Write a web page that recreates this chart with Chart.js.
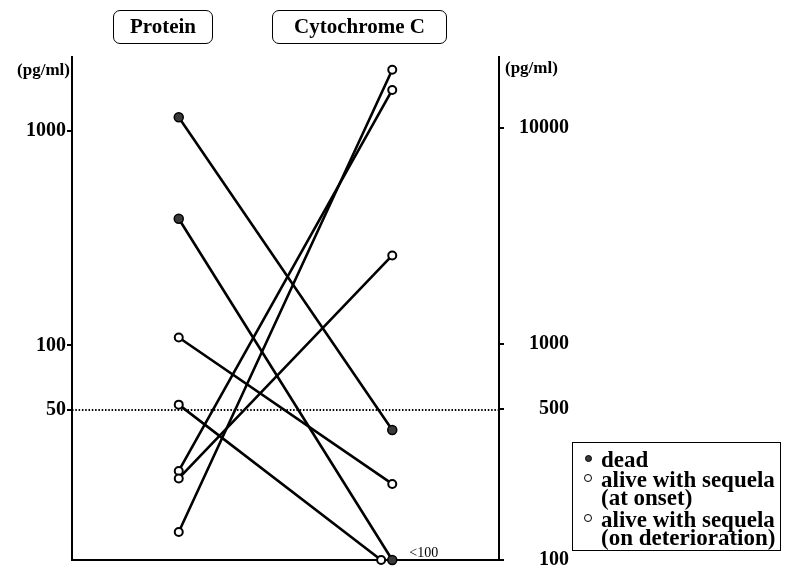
<!DOCTYPE html>
<html>
<head>
<meta charset="utf-8">
<title>Protein and Cytochrome C</title>
<script src="https://cdn.jsdelivr.net/npm/chart.js@4.4.1/dist/chart.umd.min.js"></script>
<style>
  html, body { margin: 0; padding: 0; background: #fff; }
  #wrap { position: relative; width: 785px; height: 570px; font-family: "Liberation Serif", "Times New Roman", serif; color: #000; }
  #chart { position: absolute; left: 0; top: 0; }
  .head { position: absolute; top: 10px; height: 34px; box-sizing: border-box; border: 1.5px solid #000; border-radius: 7px;
          font-weight: bold; font-size: 21px; line-height: 31px; text-align: center; }
  .unit { position: absolute; font-weight: bold; font-size: 17px; line-height: 20px; white-space: nowrap; }
  #legend { position: absolute; left: 572px; top: 442px; width: 209px; height: 109px; box-sizing: border-box; border: 1px solid #000; }
  #legend .entry { position: absolute; left: 28px; font-weight: bold; font-size: 23px; line-height: 18px; white-space: nowrap; }
  #legend .mark { position: absolute; box-sizing: border-box; border-radius: 50%; }
</style>
</head>
<body>
<div id="wrap">
  <canvas id="chart" width="785" height="570"></canvas>
  <div class="head" style="left:113px;width:100px;">Protein</div>
  <div class="head" style="left:272px;width:175px;">Cytochrome C</div>
  <div class="unit" style="right:715px;top:60px;">(pg/ml)</div>
  <div class="unit" style="left:505px;top:58px;">(pg/ml)</div>
  <div id="legend"></div>
</div>
<script>
// Paired measurements per patient: protein (left axis) and cytochrome C (right axis), pg/ml
const outcome    = ['dead', 'dead', 'alive', 'alive', 'alive', 'alive', 'alive'];
const protein    = [1160, 390, 109, 53, 26, 24, 13.5];
const cytochrome = [400, 100, 225, 100, 15000, 2570, 18600];

// Axis ticks and reference level
const proteinTicks    = [50, 100, 1000];
const cytochromeTicks = [100, 500, 1000, 10000];
const proteinCutoff   = 50;
const detectionLimit  = 100;

// Legend entries
const legendLabels = [
  { kind: 'dead',  lines: ['dead'] },
  { kind: 'alive', lines: ['alive with sequela', '(at onset)'] },
  { kind: 'alive', lines: ['alive with sequela', '(on deterioration)'] }
];

const colX = { protein: 0.25, cyto: 0.75 };
const dodge = 0.026;

// spread points that share the same value within a column
function columnPoints(values, x) {
  const seen = {};
  return values.map(v => {
    const k = seen[v] || 0;
    seen[v] = k + 1;
    return { x: x - k * dodge, y: v };
  });
}

const fillFor   = ctx => outcome[ctx.dataIndex] === 'dead' ? '#3a3a3a' : '#ffffff';
const borderFor = ctx => outcome[ctx.dataIndex] === 'dead' ? 1.5 : 2;
const radiusFor = ctx => outcome[ctx.dataIndex] === 'dead' ? 4.5 : 4;

const serif = 'Liberation Serif';

const connectors = {
  id: 'connectors',
  beforeDatasetsDraw(chart) {
    const a = chart.getDatasetMeta(1).data;
    const b = chart.getDatasetMeta(2).data;
    const ctx = chart.ctx;
    ctx.save();
    ctx.strokeStyle = '#000';
    ctx.lineWidth = 2.6;
    ctx.lineCap = 'round';
    for (let i = 0; i < a.length; i++) {
      ctx.beginPath();
      ctx.moveTo(a[i].x, a[i].y);
      ctx.lineTo(b[i].x, b[i].y);
      ctx.stroke();
    }
    ctx.restore();
  },
  afterDatasetsDraw(chart) {
    // "<100" note beside the undetectable cytochrome C values
    const pts = chart.getDatasetMeta(2).data.filter((p, i) => cytochrome[i] <= detectionLimit);
    if (!pts.length) return;
    const rightmost = pts.reduce((m, p) => p.x > m.x ? p : m, pts[0]);
    const ctx = chart.ctx;
    ctx.save();
    ctx.fillStyle = '#000';
    ctx.font = '14px "' + serif + '"';
    ctx.textAlign = 'left';
    ctx.textBaseline = 'alphabetic';
    ctx.fillText('<' + detectionLimit, rightmost.x + 17, rightmost.y - 3);
    ctx.restore();
  }
};

const tickFont = { family: serif, size: 20, weight: 'bold' };

// vertical axes keep a fixed width and do not reserve room for overhanging labels
function fixWidth(w) {
  return s => { s.width = w; s.paddingTop = 0; s.paddingBottom = 0; };
}

new Chart(document.getElementById('chart'), {
  type: 'scatter',
  data: {
    datasets: [
      {
        type: 'line',
        data: [{ x: 0, y: proteinCutoff }, { x: 1, y: proteinCutoff }],
        yAxisID: 'yP',
        borderColor: '#000',
        borderWidth: 2,
        borderDash: [1.5, 1.8],
        pointRadius: 0,
        fill: false
      },
      {
        label: 'Protein',
        data: columnPoints(protein, colX.protein),
        yAxisID: 'yP',
        pointRadius: radiusFor,
        pointBackgroundColor: fillFor,
        pointBorderColor: '#000',
        pointBorderWidth: borderFor,
        clip: false
      },
      {
        label: 'Cytochrome C',
        data: columnPoints(cytochrome, colX.cyto),
        yAxisID: 'yC',
        pointRadius: radiusFor,
        pointBackgroundColor: fillFor,
        pointBorderColor: '#000',
        pointBorderWidth: borderFor,
        clip: false
      }
    ]
  },
  options: {
    responsive: false,
    animation: false,
    devicePixelRatio: 1,
    layout: { padding: { left: 0, top: 57, right: 216, bottom: 10 } },
    plugins: { legend: { display: false }, tooltip: { enabled: false } },
    scales: {
      x: {
        type: 'linear', min: 0, max: 1,
        ticks: { display: false },
        grid: { display: false, drawTicks: false },
        border: { display: true, color: '#000', width: 2 },
        afterFit(s) { s.height = 0; s.paddingLeft = 0; s.paddingRight = 0; }
      },
      yP: {
        type: 'logarithmic', position: 'left', min: 10, max: 2213,
        afterBuildTicks(s) { s.ticks = proteinTicks.map(v => ({ value: v })); },
        ticks: { callback: v => String(v), color: '#000', font: tickFont, padding: 1, autoSkip: false },
        grid: { drawOnChartArea: false, drawTicks: true, tickLength: 5, color: '#000', lineWidth: 2 },
        border: { display: true, color: '#000', width: 2 },
        afterFit: fixWidth(72)
      },
      yC: {
        type: 'logarithmic', position: 'right', min: 100, max: 21320,
        afterBuildTicks(s) { s.ticks = cytochromeTicks.map(v => ({ value: v })); },
        ticks: { callback: v => String(v), color: '#000', font: tickFont, padding: 5, autoSkip: false, crossAlign: 'far' },
        grid: { drawOnChartArea: false, drawTicks: true, tickLength: 5, color: '#000', lineWidth: 2 },
        border: { display: true, color: '#000', width: 2 },
        afterFit: fixWidth(70)
      }
    }
  },
  plugins: [connectors]
});

// legend box
(function buildLegend() {
  const box = document.getElementById('legend');
  const tops = [8, 28, 68];
  legendLabels.forEach((item, i) => {
    const entry = document.createElement('div');
    entry.className = 'entry';
    entry.style.top = tops[i] + 'px';
    entry.innerHTML = item.lines.join('<br>');
    box.appendChild(entry);
    const m = document.createElement('div');
    m.className = 'mark';
    const size = item.kind === 'dead' ? 7 : 8;
    m.style.width = size + 'px';
    m.style.height = size + 'px';
    m.style.left = (15 - size / 2) + 'px';
    m.style.top = (tops[i] + 7 - size / 2) + 'px';
    if (item.kind === 'dead') { m.style.background = '#3a3a3a'; m.style.border = '1px solid #000'; }
    else { m.style.background = '#fff'; m.style.border = '1.6px solid #000'; }
    box.appendChild(m);
  });
})();
</script>
</body>
</html>
